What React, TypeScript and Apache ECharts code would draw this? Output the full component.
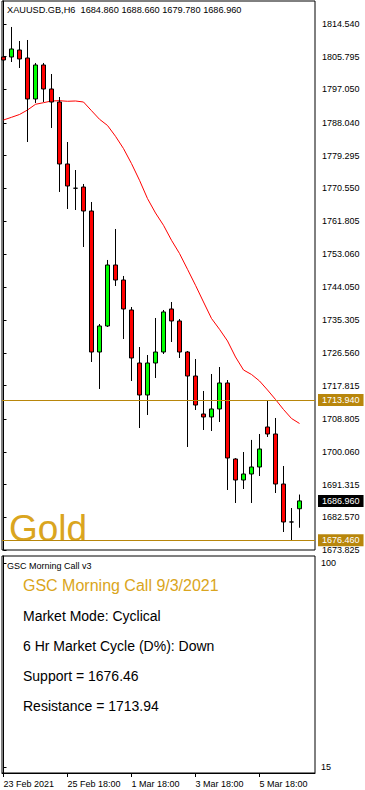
import React, { useEffect, useRef } from "react";
import * as echarts from "echarts";

const symbolName = "XAUUSD.GB";
const timeframe = "H6";

const opens = [1805.71, 1805.71, 1807.58, 1805.44, 1794.48, 1803.57, 1797.15, 1793.67, 1777.09, 1770.6, 1770.93, 1764.51, 1726.79, 1733.75, 1750.07, 1746.05, 1738.03, 1723.85, 1715.29, 1723.85, 1726.79, 1738.3, 1735.09, 1726.79, 1720.37, 1710.21, 1709.41, 1711.55, 1718.5, 1698.17, 1692.55, 1694.16, 1696.03, 1706.73, 1704.86, 1691.48, 1681.32, 1684.86];
const highs = [1809.46, 1813.74, 1809.99, 1810.26, 1804.11, 1804.11, 1801.16, 1795.01, 1782.97, 1775.48, 1771.74, 1766.92, 1734.28, 1751.41, 1759.7, 1747.13, 1738.83, 1728.13, 1725.99, 1735.89, 1738.03, 1740.17, 1735.62, 1727.06, 1724.92, 1716.36, 1720.91, 1722.78, 1719.3, 1698.4, 1700.04, 1703.27, 1704.86, 1713.94, 1709.14, 1696.3, 1685.06, 1688.66];
const lows = [1801.7, 1804.37, 1802.77, 1782.97, 1793.41, 1793.67, 1786.72, 1769.6, 1765.05, 1764.78, 1754.88, 1724.12, 1716.9, 1733.48, 1744.45, 1730.27, 1719.03, 1706.46, 1709.94, 1719.84, 1726.26, 1729.47, 1725.19, 1701.38, 1711.28, 1705.93, 1705.66, 1708.07, 1689.88, 1686.4, 1690.14, 1686.4, 1693.62, 1704.06, 1689.07, 1678.64, 1676.46, 1679.78];
const closes = [1804.91, 1807.85, 1805.18, 1794.48, 1803.57, 1797.15, 1793.67, 1777.09, 1771.2, 1770.6, 1764.51, 1726.79, 1733.75, 1750.07, 1746.05, 1738.3, 1725.19, 1715.29, 1723.85, 1726.79, 1737.5, 1735.09, 1726.79, 1720.37, 1712.61, 1709.41, 1711.55, 1718.5, 1698.44, 1692.55, 1694.16, 1696.03, 1700.85, 1704.86, 1691.48, 1681.32, 1681.32, 1686.96];
const maValues = [1788.86, 1789.58, 1790.33, 1791.53, 1793.06, 1793.49, 1793.94, 1794.02, 1793.86, 1793.94, 1793.67, 1791.35, 1789.05, 1787.39, 1784.5, 1781.21, 1777.19, 1772.73, 1767.83, 1763.98, 1760.69, 1756.68, 1753.15, 1748.92, 1744.64, 1740.17, 1735.76, 1732.87, 1729.74, 1725.46, 1721.98, 1720.78, 1719.04, 1716.63, 1714.09, 1711.41, 1709.01, 1707.67];

const priceTicks = [1814.54, 1805.795, 1797.05, 1788.04, 1779.295, 1770.55, 1761.805, 1753.06, 1744.05, 1735.305, 1726.56, 1717.815, 1708.805, 1700.06, 1691.315, 1682.57, 1673.825];
const support = 1676.46;
const resistance = 1713.94;
const xLabelIndex = [0, 8, 16, 24, 32];
const xLabels = ["23 Feb 2021", "25 Feb 18:00", "1 Mar 18:00", "3 Mar 18:00", "5 Mar 18:00"];
const indicatorTicks = [15, 100];

const indicatorName = "GSC Morning Call v3";
const reportDate = "9/3/2021";
const marketMode = "Cyclical";
const cycleDirection = "Down";
const assetName = "Gold";

const FONT = '"Liberation Sans", Arial, sans-serif';
const GOLD = "#DAA520";
const DARK_GOLD = "#B8860B";

export default function App() {
  const ref = useRef<HTMLDivElement>(null);

  useEffect(() => {
    document.body.style.margin = "0";
    const chart = echarts.init(ref.current!, null, { renderer: "svg" });
    const last = opens.length - 1;
    const candleData = opens.map((o, i) => [i, o, closes[i], lows[i], highs[i]]);
    const maData = maValues.map((v, i) => [i, v]);
    const header = `${symbolName},${timeframe}  ${opens[last].toFixed(3)} ${highs[last].toFixed(3)} ${lows[last].toFixed(3)} ${closes[last].toFixed(3)}`;

    const xMin = -0.1875;
    const xMax = 38.9375;

    const priceLabel = (v: number, bg: string) => ({
      show: true,
      position: "end",
      distance: 3,
      formatter: v.toFixed(3),
      backgroundColor: bg,
      color: "#fff",
      fontFamily: FONT,
      fontSize: 9,
      padding: [2, 4, 1, 4],
    });

    const infoLines = [
      `Market Mode: ${marketMode}`,
      `6 Hr Market Cycle (D%): ${cycleDirection}`,
      `Support = ${support.toFixed(2)}`,
      `Resistance = ${resistance.toFixed(2)}`,
    ];

    chart.setOption({
      animation: false,
      backgroundColor: "#fff",
      grid: [
        { left: 2, top: 1, width: 313, height: 549, show: true, borderColor: "#000", borderWidth: 1, backgroundColor: "transparent" },
        { left: 2, top: 556, width: 313, height: 217, show: true, borderColor: "#000", borderWidth: 1, backgroundColor: "transparent" },
      ],
      xAxis: [
        { type: "value", gridIndex: 0, min: xMin, max: xMax, show: false },
        {
          type: "value",
          gridIndex: 1,
          min: xMin,
          max: xMax,
          splitLine: { show: false },
          axisLine: { show: true, lineStyle: { color: "#000" } },
          axisTick: { show: true, customValues: xLabelIndex, length: 4, lineStyle: { color: "#000" } },
          axisLabel: {
            show: true,
            customValues: xLabelIndex,
            formatter: (v: number) => xLabels[xLabelIndex.indexOf(Math.round(v))] ?? "",
            align: "left",
            margin: 6,
            color: "#000",
            fontFamily: FONT,
            fontSize: 9,
          },
        },
      ],
      yAxis: [
        {
          type: "value",
          gridIndex: 0,
          position: "right",
          min: 1673.825,
          max: 1820.69,
          scale: true,
          splitLine: { show: false },
          axisLine: { show: true, lineStyle: { color: "#000" } },
          axisTick: { show: true, customValues: priceTicks, length: 3, lineStyle: { color: "#000" } },
          axisLabel: {
            show: true,
            customValues: priceTicks,
            formatter: (v: number) => v.toFixed(3),
            margin: 7,
            color: "#000",
            fontFamily: FONT,
            fontSize: 9,
          },
        },
        {
          type: "value",
          gridIndex: 1,
          position: "right",
          min: 12.49,
          max: 103.13,
          splitLine: { show: false },
          axisLine: { show: true, lineStyle: { color: "#000" } },
          axisTick: { show: true, customValues: indicatorTicks, length: 3, lineStyle: { color: "#000" } },
          axisLabel: {
            show: true,
            customValues: indicatorTicks,
            formatter: (v: number) => String(v),
            margin: 6,
            color: "#000",
            fontFamily: FONT,
            fontSize: 9,
          },
        },
      ],
      series: [
        {
          type: "line",
          xAxisIndex: 0,
          yAxisIndex: 0,
          data: maData,
          showSymbol: false,
          symbol: "none",
          lineStyle: { color: "#FF0000", width: 1 },
          z: 2,
        },
        {
          type: "candlestick",
          xAxisIndex: 0,
          yAxisIndex: 0,
          data: candleData,
          encode: { x: 0, y: [1, 2, 3, 4] },
          barWidth: 4,
          itemStyle: {
            color: "#00FF00",
            color0: "#FF0000",
            borderColor: "#000",
            borderColor0: "#000",
            borderColorDoji: "#000",
            borderWidth: 1,
          },
          z: 3,
          markLine: {
            silent: true,
            symbol: ["none", "none"],
            data: [
              { yAxis: resistance, lineStyle: { color: DARK_GOLD, width: 1, type: "solid" }, label: priceLabel(resistance, DARK_GOLD) },
              { yAxis: support, lineStyle: { color: DARK_GOLD, width: 1, type: "solid" }, label: priceLabel(support, DARK_GOLD) },
            ],
          },
        },
        {
          type: "line",
          xAxisIndex: 0,
          yAxisIndex: 0,
          data: [],
          markLine: {
            silent: true,
            symbol: ["none", "none"],
            lineStyle: { color: "#000", width: 0, type: "solid" },
            data: [{ yAxis: closes[last], label: priceLabel(closes[last], "#000") }],
          },
        },
      ],
      graphic: [
        { type: "text", x: 7, y: 9.5, style: { text: header, font: `9.2px ${FONT}`, fill: "#000", verticalAlign: "middle" } },
        { type: "text", x: 9, y: 528, z: 1, style: { text: assetName, font: `37px ${FONT}`, fill: GOLD, verticalAlign: "middle" } },
        { type: "text", x: 7, y: 566, style: { text: indicatorName, font: `9px ${FONT}`, fill: "#000", verticalAlign: "middle" } },
        { type: "text", x: 23, y: 585.5, style: { text: `GSC Morning Call ${reportDate}`, font: `16px ${FONT}`, fill: GOLD, verticalAlign: "middle" } },
        ...infoLines.map((t, i) => ({
          type: "text",
          x: 23,
          y: 616 + i * 30,
          style: { text: t, font: `14px ${FONT}`, fill: "#000", verticalAlign: "middle" },
        })),
      ],
    });
    return () => chart.dispose();
  }, []);

  return <div ref={ref} style={{ position: "fixed", left: 0, top: 0, width: 365, height: 790 }} />;
}
